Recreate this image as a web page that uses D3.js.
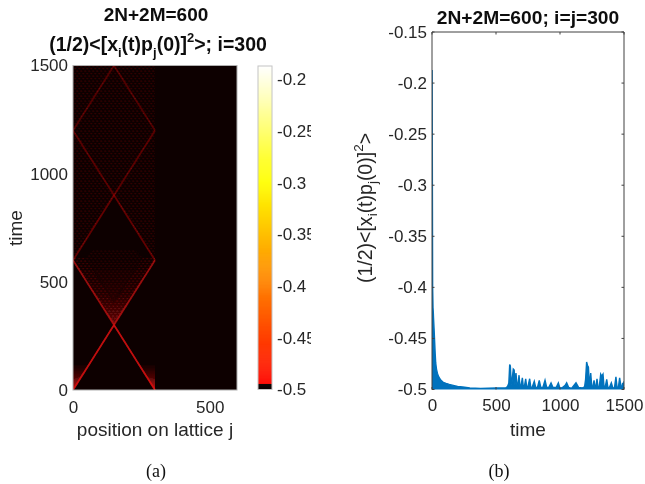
<!DOCTYPE html>
<html><head><meta charset="utf-8">
<script src="https://cdn.jsdelivr.net/npm/d3@7"></script>
<style>
html,body{margin:0;padding:0;background:#fff}
svg{display:block}
text{font-family:"Liberation Sans",Arial,sans-serif;fill:#262626}
.t{font-weight:bold;fill:#111}
.cap{font-family:"Liberation Serif",serif;fill:#111}
</style></head><body>
<svg id="c" width="645" height="484"></svg>
<script>
// Panel (a): wavefront segments [j0, t0, j1, t1, amplitude]
const wavefronts = [
 [0,0,150,300,.85],[300,0,150,300,.85],
 [150,300,0,600,.62],[150,300,300,600,.62],
 [0,600,150,900,.40],[300,600,150,900,.40],
 [150,900,0,1200,.34],[150,900,300,1200,.34],
 [0,1200,150,1500,.30],[300,1200,150,1500,.30]
];
// Panel (a): trailing fans [amplitude, polygon in (j,t)]
const fans = [
 [1,[[0,0],[58,116],[0,116]]],[1,[[300,0],[242,116],[300,116]]],
 [1,[[0,0],[32,64],[0,50]]],[1,[[300,0],[268,64],[300,50]]],
 [.28,[[150,300],[215,430],[85,430]]],
 [.22,[[150,300],[300,600],[0,600]]]
];
// Panel (a): speckled regions [amplitude, polygon in (j,t)]
const speckles = [
 [.50,[[150,300],[300,600],[300,610],[255,610],[150,400],[45,610],[0,610],[0,600]]],
 [.30,[[150,420],[255,610],[225,650],[75,650],[45,610]]],
 [.36,[[0,600],[150,900],[150,1500],[0,1500]]],
 [.36,[[300,600],[150,900],[150,1500],[300,1500]]]
];
const xTicksA = [0,500], yTicksA = [0,500,1000,1500];
const cbTicks = [-0.5,-0.45,-0.4,-0.35,-0.3,-0.25,-0.2];
const cbValues = [-0.5,-0.3,-0.187];
// Panel (b)
const timeB = [0,1,3,5,8,10,12,16,21,25,29,35,42,50,60,70,88,110,135,166,200,240,296,380,500,575,590,600,604,607,612,618,624,628,635,642,648,656,664,672,680,688,696,706,714,722,732,740,748,763,772,782,799,810,824,838,850,866,883,896,912,930,945,970,987,1000,1020,1040,1052,1068,1090,1125,1145,1175,1192,1200,1208,1216,1222,1230,1240,1248,1256,1266,1274,1280,1289,1297,1306,1318,1326,1336,1344,1354,1365,1374,1386,1401,1414,1426,1437,1446,1456,1466,1476,1484,1490,1496,1500];
const valueB = [-0.188,-0.188,-0.3,-0.4,-0.42,-0.424,-0.43,-0.44,-0.454,-0.465,-0.474,-0.48,-0.484,-0.487,-0.489,-0.491,-0.493,-0.494,-0.495,-0.496,-0.497,-0.4975,-0.4985,-0.499,-0.4985,-0.4985,-0.497,-0.494,-0.484,-0.4756,-0.477,-0.492,-0.495,-0.488,-0.48,-0.481,-0.496,-0.484,-0.496,-0.495,-0.486,-0.498,-0.496,-0.4885,-0.498,-0.497,-0.4895,-0.498,-0.498,-0.4895,-0.498,-0.498,-0.492,-0.498,-0.498,-0.491,-0.498,-0.498,-0.491,-0.498,-0.498,-0.4935,-0.498,-0.498,-0.4935,-0.499,-0.498,-0.496,-0.4935,-0.498,-0.499,-0.4935,-0.498,-0.4985,-0.4975,-0.49,-0.473,-0.477,-0.478,-0.497,-0.484,-0.497,-0.498,-0.491,-0.498,-0.498,-0.4895,-0.498,-0.498,-0.485,-0.487,-0.485,-0.497,-0.497,-0.49,-0.498,-0.498,-0.4935,-0.499,-0.498,-0.4876,-0.498,-0.498,-0.4885,-0.497,-0.498,-0.4935,-0.498,-0.492];
const xTicksB = [0,500,1000,1500];
const yTicksB = [-0.5,-0.45,-0.4,-0.35,-0.3,-0.25,-0.2,-0.15];

const svg = d3.select('#c');
const defs = svg.append('defs');
const soft = defs.append('filter').attr('id','soft').attr('x',0).attr('y',0).attr('width',1).attr('height',1);
soft.append('feGaussianBlur').attr('stdDeviation',.45);
const textSoft = defs.append('filter').attr('id','ts');
textSoft.append('feGaussianBlur').attr('stdDeviation',.25);
const pat = defs.append('pattern').attr('id','sp').attr('patternUnits','userSpaceOnUse').attr('width',4).attr('height',5);
[[.5,.5,1.2,.95],[2.5,3,1.2,.85],[2.5,.8,.8,.4],[.5,3.2,.8,.35]].forEach(d=>pat.append('rect').attr('x',d[0]).attr('y',d[1]).attr('width',d[2]).attr('height',d[2]).attr('fill','#c01010').attr('opacity',d[3]));
const fade = defs.append('linearGradient').attr('id','fade').attr('x1',0).attr('y1',1).attr('x2',0).attr('y2',0);
fade.append('stop').attr('offset',0).attr('stop-color','#e01010').attr('stop-opacity',1);
fade.append('stop').attr('offset',.45).attr('stop-color','#c01010').attr('stop-opacity',.55);
fade.append('stop').attr('offset',1).attr('stop-color','#a01010').attr('stop-opacity',.04);
const fadeV = defs.append('linearGradient').attr('id','fadeV').attr('x1',0).attr('y1',1).attr('x2',0).attr('y2',0);
fadeV.append('stop').attr('offset',0).attr('stop-color','#e01010').attr('stop-opacity',.6);
fadeV.append('stop').attr('offset',.6).attr('stop-color','#c01010').attr('stop-opacity',.3);
fadeV.append('stop').attr('offset',1).attr('stop-color','#a01010').attr('stop-opacity',.06);

const root = svg.append('g').attr('filter','url(#ts)');

// ---- panel a
const xA = d3.scaleLinear().domain([0,600]).range([73,237]);
const yA = d3.scaleLinear().domain([0,1500]).range([390,65.5]);
defs.append('clipPath').attr('id','ca').append('rect').attr('x',73).attr('y',65.5).attr('width',164).attr('height',324.5);
const hm = svg.append('g').attr('clip-path','url(#ca)').append('g').attr('filter','url(#soft)');
hm.append('rect').attr('x',xA(0)).attr('y',yA(1500)).attr('width',xA(600)-xA(0)).attr('height',yA(0)-yA(1500)).attr('fill','#0b0000');
const poly = p => p.map(q=>[xA(q[0]),yA(q[1])].join(',')).join(' ');
hm.selectAll('.sp').data(speckles).join('polygon').attr('class','sp').attr('points',d=>poly(d[1])).attr('fill','url(#sp)').attr('opacity',d=>d[0]);
hm.selectAll('.fan').data(fans).join('polygon').attr('class','fan').attr('points',d=>poly(d[1])).attr('fill',(d,i)=>i<4?'url(#fadeV)':'url(#fade)').attr('opacity',d=>d[0]);
hm.selectAll('.w').data(wavefronts).join('line').attr('class','w')
  .attr('x1',d=>xA(d[0])).attr('y1',d=>yA(d[1])).attr('x2',d=>xA(d[2])).attr('y2',d=>yA(d[3]))
  .attr('stroke','#e01010').attr('stroke-width',1.8).attr('stroke-opacity',d=>d[4]);
svg.append('rect').attr('x',xA(0)).attr('y',yA(1500)).attr('width',xA(600)-xA(0)).attr('height',yA(0)-yA(1500)).attr('fill','none').attr('stroke','#b0b0b0').attr('stroke-width',1);

const axA = root.append('g').attr('transform','translate(0,390)').call(d3.axisBottom(xA).tickValues(xTicksA).tickSize(0).tickPadding(11).tickFormat(String));
axA.select('.domain').remove();
const ayA = root.append('g').attr('transform','translate(73,0)').call(d3.axisLeft(yA).tickValues(yTicksA).tickSize(0).tickPadding(5).tickFormat(String));
ayA.select('.domain').remove();
root.append('text').attr('x',155).attr('y',436).attr('text-anchor','middle').style('font-size','19px').text('position on lattice j');
root.append('text').attr('transform','translate(22,228) rotate(-90)').attr('text-anchor','middle').style('font-size','19px').text('time');
root.append('text').attr('class','t').attr('x',156).attr('y',21).attr('text-anchor','middle').style('font-size','19px').text('2N+2M=600');
const t2 = root.append('text').attr('class','t').attr('x',158).attr('y',51).attr('text-anchor','middle').style('font-size','19px');
[['(1/2)<[x',0,19.5],['i',6,13],['(t)p',-6,19.5],['j',6,13],['(0)]',-6,19.5],['2',-9,13],['>; i=300',9,19.5]].forEach(d=>t2.append('tspan').attr('dy',d[1]).style('font-size',d[2]+'px').text(d[0]));

// ---- colorbar
const yC = d3.scaleLinear().domain([-0.5,-0.187]).range([389.5,66]);
const cmap = d3.scaleLinear().domain(cbValues).range(['#ff0000','#ffff00','#ffffff']);
const levels = d3.range(0,320);
const lv = i => -0.5 + (i/320)*(-0.187+0.5);
svg.append('g').selectAll('rect').data(levels).join('rect')
  .attr('x',258).attr('width',14).attr('y',d=>yC(lv(d+1))).attr('height',d=>yC(lv(d))-yC(lv(d+1))+.5)
  .attr('fill',d=>lv(d)<-0.495?'#0b0000':cmap(lv(d)));
svg.append('rect').attr('x',258).attr('y',66).attr('width',14).attr('height',323.5).attr('fill','none').attr('stroke','#c4c4c4').attr('stroke-width',1);
defs.append('clipPath').attr('id','cb').append('rect').attr('x',272).attr('y',55).attr('width',39).attr('height',350);
const acb = root.append('g').attr('clip-path','url(#cb)').append('g').attr('transform','translate(272,0)').call(d3.axisRight(yC).tickValues(cbTicks).tickSize(0).tickPadding(5).tickFormat(String));
acb.select('.domain').remove();

// ---- panel b
const xB = d3.scaleLinear().domain([0,1500]).range([432,624]);
const yB = d3.scaleLinear().domain([-0.5,-0.15]).range([389.5,32]);
const pts = timeB.map((t,i)=>[t,valueB[i]]);
defs.append('clipPath').attr('id','cc').append('rect').attr('x',432).attr('y',32).attr('width',192).attr('height',357.5);
const pb = svg.append('g').attr('clip-path','url(#cc)').append('g').attr('filter','url(#soft)');
pb.append('path').datum(pts).attr('d',d3.area().x(d=>xB(d[0])).y0(yB(-0.5)).y1(d=>yB(d[1])))
  .attr('fill','#0072bd').attr('stroke','#0072bd').attr('stroke-width',1.4);
const frame = svg.append('g');
frame.append('path').attr('d',`M${xB(0)},${yB(-0.5)}V${yB(-0.15)}H${xB(1500)}V${yB(-0.5)}`).attr('fill','none').attr('stroke','#404040').attr('stroke-width',1);
const axB = root.append('g').attr('transform',`translate(0,${yB(-0.5)})`).call(d3.axisBottom(xB).tickValues(xTicksB).tickSize(0).tickPadding(9).tickFormat(String));
axB.select('.domain').remove();
const ayB = root.append('g').attr('transform','translate(432,0)').call(d3.axisLeft(yB).tickValues(yTicksB).tickSize(0).tickPadding(5).tickFormat(String));
ayB.select('.domain').remove();
frame.selectAll('.a').data(xTicksB).join('path').attr('class','a').attr('d',d=>`M${xB(d)},32v2.5M${xB(d)},389.5v-2.5`).attr('stroke','#404040');
frame.selectAll('.b').data(yTicksB).join('path').attr('class','b').attr('d',d=>`M432,${yB(d)}h2.5M624,${yB(d)}h-2.5`).attr('stroke','#404040');
root.append('text').attr('x',528).attr('y',436).attr('text-anchor','middle').style('font-size','19px').text('time');
root.append('text').attr('class','t').attr('x',528).attr('y',24).attr('text-anchor','middle').style('font-size','19.2px').text('2N+2M=600; i=j=300');
const yl = root.append('text').attr('transform','translate(372,208) rotate(-90)').attr('text-anchor','middle').style('font-size','19px');
[['(1/2)<[x',0,19.5],['i',5,13.5],['(t)p',-5,19.5],['j',5,13.5],['(0)]',-5,19.5],['2',-9,13.5],['>',9,19.5]].forEach(d=>yl.append('tspan').attr('dy',d[1]).style('font-size',d[2]+'px').text(d[0]));

root.selectAll('.tick text').style('font-size','17px').attr('fill','#262626');

// captions
svg.append('text').attr('class','cap').attr('x',156).attr('y',477).attr('text-anchor','middle').style('font-size','18px').text('(a)');
svg.append('text').attr('class','cap').attr('x',499).attr('y',477).attr('text-anchor','middle').style('font-size','18px').text('(b)');
</script></body></html>
